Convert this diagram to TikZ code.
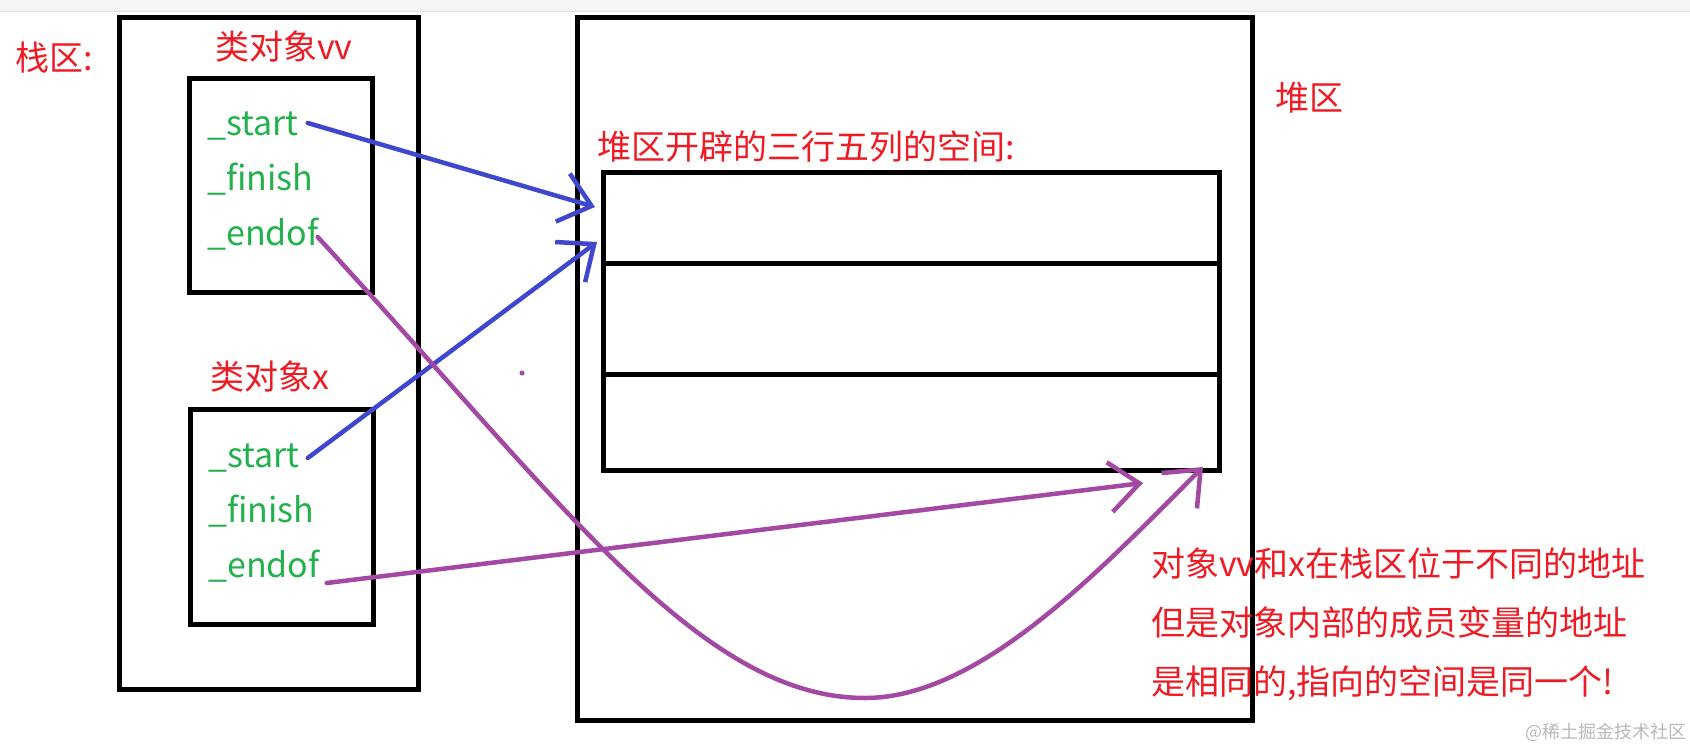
\documentclass[tikz,border=0pt]{standalone}
\usepackage{fontspec}
\newfontfamily\cjk{Noto Sans CJK SC}
\usepackage{xcolor}
\usetikzlibrary{positioning,calc,arrows.meta}

\definecolor{mspred}{HTML}{ED1C24}
\definecolor{mspgreen}{HTML}{22B14C}
\definecolor{mspblue}{HTML}{3F48CC}
\definecolor{msppurple}{HTML}{A349A4}

\begin{document}
\begin{tikzpicture}[
	x=1pt, y=-1pt, % toạ độ tính theo pixel, y hướng xuống
	box/.style={
		draw=black,           % viền đen dày
		line width=5pt,
		inner sep=0pt
	},
	lbl/.style={              % chữ đỏ
		anchor=west, inner sep=0pt,
		text=mspred,
		font=\cjk\fontsize{34}{40}\selectfont
	},
	field/.style={            % tên biến màu xanh lá
		anchor=base west, inner sep=0pt,
		text=mspgreen,
		font=\cjk\fontsize{34}{40}\selectfont
	},
	% --- mũi tên vẽ tay ---
	arrow_blue/.style={
		-{Straight Barb[length=30pt,width=50pt]},
		mspblue, line width=4.5pt, line cap=round
	},
	arrow_purple/.style={
		-{Straight Barb[length=30pt,width=50pt]},
		msppurple, line width=4.5pt, line cap=round
	}
	]
	% nền và khung
	\fill[white] (0,0) rectangle (1690,748);
	\useasboundingbox (0,0) rectangle (1690,748);
	\fill[gray!8] (0,0) rectangle (1690,11);
	\draw[gray!25] (0,11) -- (1690,11);
	
	% --- VÙNG STACK ---
	\node[lbl] (stacklbl) at (15,58) {栈区:};
	\node[box, minimum width=299, minimum height=672] (stack) at (268.5,353) {};
	
	% Đối tượng vv
	\node[lbl] (vvlbl) at (215,47) {类对象vv};
	\node[box, minimum width=183, minimum height=214] (objvv) at (280.5,185) {};
	\foreach \f [count=\i] in {\_start, \_finish, \_endof} {
		\node[field] (vv-\i) at (207, 80+55*\i) {\f};
	}
	
	% Đối tượng x
	\node[lbl] (xlbl) at (210,377) {类对象x};
	\node[box, minimum width=183, minimum height=215] (objx) at (281.5,516.5) {};
	\foreach \f [count=\i] in {\_start, \_finish, \_endof} {
		\node[field] (x-\i) at (208, 412+55*\i) {\f};
	}
	
	% --- VÙNG HEAP ---
	\node[box, minimum width=675, minimum height=703] (heap) at (914.5,368.5) {};
	\node[lbl] (heaplbl) at (1275,98) {堆区};
	\node[lbl] (gridlbl) at (597,147) {堆区开辟的三行五列的空间:};
	% ba hàng
	\foreach \cy/\h [count=\i] in {217.5/91, 318.5/111, 422/96} {
		\node[box, minimum width=616, minimum height=\h] (row-\i) at (911,\cy) {};
	}
	\fill[msppurple] (522,373) circle[radius=2.5pt];
	
	% Ghi chú
	\foreach \t [count=\i] in {对象vv和x在栈区位于不同的地址, 但是对象内部的成员变量的地址, {是相同的,指向的空间是同一个!}} {
		\node[lbl] (note-\i) at (1151, 503+60*\i) {\t};
	}
	\node[anchor=west, inner sep=0pt, text=gray!55, font=\cjk\fontsize{18}{20}\selectfont] (wm) at (1525,732) {@稀土掘金技术社区};
	
	% --- MŨI TÊN ---
	\coordinate (h1) at (595,207);
	\coordinate (h2) at (597,242);
	\coordinate (h3) at (1143,483);
	\coordinate (h4) at (1203,467);
	\coordinate (bend) at (865,698);
	% xanh: _start -> vùng heap
	\draw[arrow_blue] ($(vv-1.base east)+(9,-12)$) -- (h1);
	\draw[arrow_blue] ($(x-1.base east)+(8,-9)$) -- (h2);
	% tím: _endof -> cuối vùng heap
	\draw[arrow_purple] ($(x-3.base east)+(7,6)$) -- (h3);
	\draw[arrow_purple] ($(vv-3.base east)+(-1,-8)$) .. controls (560,500) and (700,698) .. (bend)
		.. controls (980,698) and (1100,570) .. (h4);
	
\end{tikzpicture}
\end{document}
